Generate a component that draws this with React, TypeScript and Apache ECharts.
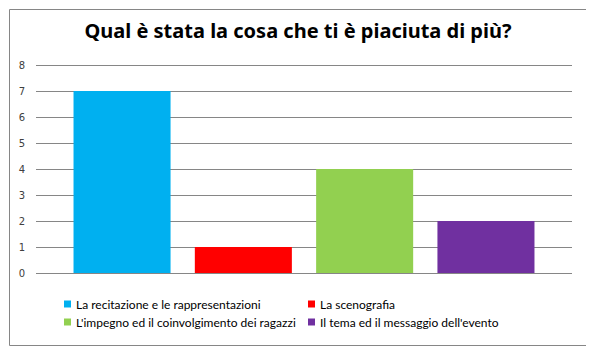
import React, { useEffect, useRef } from "react";
import * as echarts from "echarts";

const titleText = "Qual è stata la cosa che ti è piaciuta di più?";
const categories = [""];
const seriesNames = [
  "La recitazione e le rappresentazioni",
  "La scenografia",
  "L'impegno ed il coinvolgimento dei ragazzi",
  "Il tema ed il messaggio dell'evento",
];
const seriesValues = [7, 1, 4, 2];
const seriesColors = ["#00B0F0", "#FF0000", "#92D050", "#7030A0"];
const yTicks = { min: 0, max: 8, interval: 1 };

export default function App() {
  const ref = useRef<HTMLDivElement>(null);
  useEffect(() => {
    if (!ref.current) return;
    const chart = echarts.init(ref.current, null, { renderer: "svg" });
    const legendText = { fontFamily: "Lato", fontSize: 12, color: "#000000" };
    chart.setOption({
      animation: false,
      backgroundColor: "#ffffff",
      title: {
        text: titleText,
        left: "center",
        top: 7,
        textStyle: { fontFamily: "Noto Sans", fontWeight: "bold", fontSize: 20, color: "#000000" },
      },
      graphic: [
        {
          type: "rect",
          shape: { x: 1.5, y: 1.5, width: 577, height: 336 },
          style: { fill: "none", stroke: "#868686", lineWidth: 1 },
          silent: true,
        },
      ],
      grid: { left: 28, right: 16, top: 57, bottom: 75 },
      legend: [
        {
          orient: "vertical",
          left: 51,
          top: 285,
          itemWidth: 7,
          itemHeight: 7,
          itemGap: 6,
          icon: "rect",
          data: [seriesNames[0], seriesNames[2]],
          textStyle: legendText,
        },
        {
          orient: "vertical",
          left: 295,
          top: 285,
          itemWidth: 7,
          itemHeight: 7,
          itemGap: 6,
          icon: "rect",
          data: [seriesNames[1], seriesNames[3]],
          textStyle: legendText,
        },
      ],
      xAxis: {
        type: "category",
        data: categories,
        axisLine: { show: false },
        axisTick: { show: false },
        axisLabel: { show: false },
      },
      yAxis: {
        type: "value",
        min: yTicks.min,
        max: yTicks.max,
        interval: yTicks.interval,
        axisLine: { show: false },
        axisTick: { show: false },
        axisLabel: { margin: 11, fontFamily: "DejaVu Sans", fontSize: 10, color: "#404040" },
        splitLine: { lineStyle: { color: "#868686", width: 1 } },
      },
      series: seriesNames.map((name, i) => ({
        name,
        type: "bar",
        data: [seriesValues[i]],
        itemStyle: { color: seriesColors[i] },
        barGap: "25%",
        barCategoryGap: "14%",
      })),
    });
    return () => chart.dispose();
  }, []);
  return <div ref={ref} style={{ width: 580, height: 340 }} />;
}
